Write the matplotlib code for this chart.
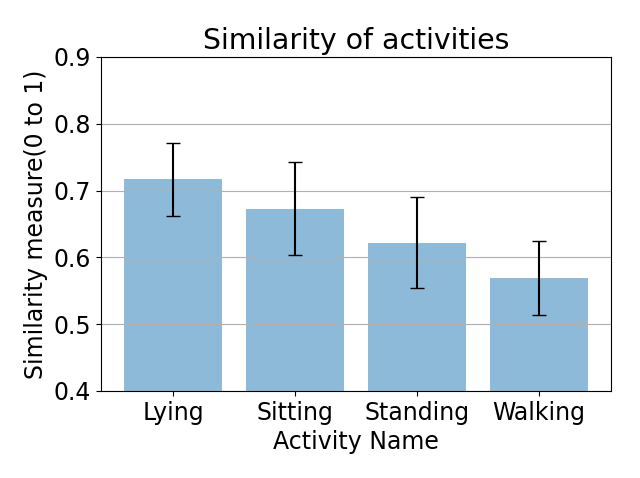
import matplotlib
matplotlib.use("Agg")
import matplotlib.pyplot as plt
import numpy as np

activities = ["Lying", "Sitting", "Standing", "Walking"]
means = [0.717, 0.673, 0.622, 0.569]
errors = [0.055, 0.070, 0.068, 0.055]

plt.rcParams['font.size'] = 17
fig, ax = plt.subplots(figsize=(6.4, 4.78), dpi=100)
x = np.arange(len(activities))
ax.bar(x, means, yerr=errors, align='center', alpha=0.5, ecolor='black', capsize=5)
ax.set_xticks(x)
ax.set_xticklabels(activities)
ax.set_ylim(0.4, 0.9)
ax.set_ylabel("Similarity measure(0 to 1)")
ax.set_xlabel("Activity Name")
ax.set_title("Similarity of activities")
ax.yaxis.grid(True)
fig.subplots_adjust(left=101/640, right=611/640, top=1-57/478, bottom=1-391/478)
fig.savefig("out.png")
